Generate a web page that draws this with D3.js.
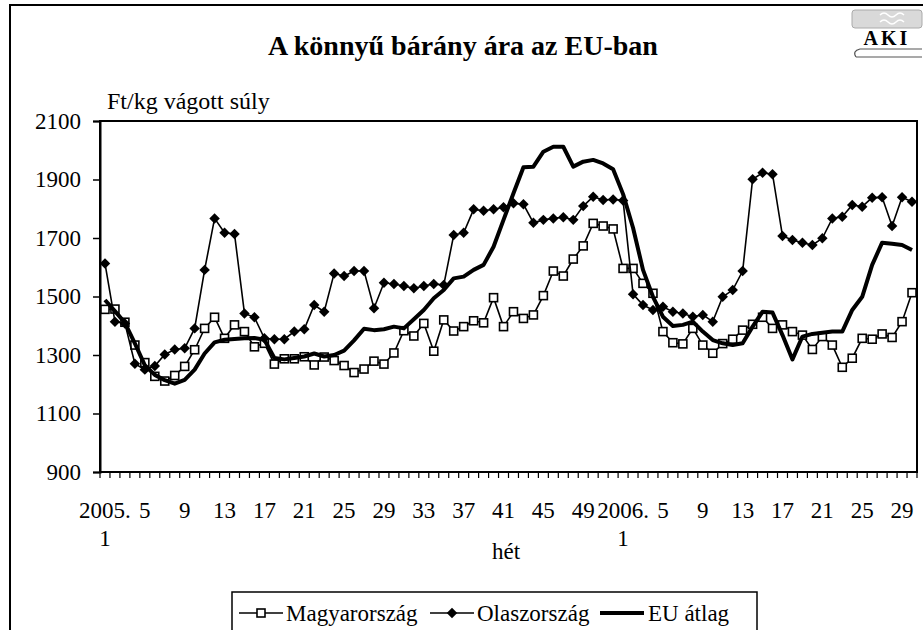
<!DOCTYPE html>
<html>
<head>
<meta charset="utf-8">
<script src="https://cdn.jsdelivr.net/npm/d3@7"></script>
<style>
  body { margin: 0; background: #fff; }
</style>
</head>
<body>
<svg id="mainsvg" width="923" height="630" font-family="'Liberation Serif', 'Times New Roman', serif"></svg>
<script>
// categories: weeks of 2005 and 2006
const weeks2005 = d3.range(1, 53);
const weeks2006 = d3.range(1, 31);
const categories = [...weeks2005.map(w => '2005. ' + w), ...weeks2006.map(w => '2006. ' + w)];
const yTicks = [900, 1100, 1300, 1500, 1700, 1900, 2100];

// Ft/kg vágott súly
const magyar = [1456, 1457, 1412, 1334, 1274, 1227, 1211, 1230, 1261, 1318,
  1391, 1429, 1357, 1403, 1380, 1328, 1340, 1269, 1287, 1287,
  1294, 1266, 1293, 1281, 1264, 1240, 1252, 1279, 1269, 1307,
  1383, 1365, 1408, 1313, 1420, 1382, 1397, 1417, 1410, 1496,
  1397, 1448, 1425, 1437, 1503, 1587, 1570, 1628, 1673, 1750,
  1741, 1731, 1596, 1596, 1545, 1511, 1380, 1342, 1338, 1391,
  1334, 1306, 1339, 1354, 1385, 1405, 1429, 1391, 1403, 1380,
  1368, 1319, 1363, 1334, 1258, 1289, 1357, 1354, 1372, 1360,
  1414, 1513];
const olasz = [1613, 1414, 1408, 1270, 1250, 1262, 1302, 1319, 1323, 1391,
  1591, 1767, 1718, 1714, 1442, 1429, 1357, 1354, 1354, 1380,
  1388, 1471, 1448, 1579, 1570, 1587, 1587, 1460, 1547, 1543,
  1536, 1528, 1536, 1543, 1539, 1710, 1718, 1798, 1793, 1798,
  1805, 1819, 1815, 1752, 1762, 1767, 1771, 1762, 1809, 1841,
  1830, 1832, 1828, 1508, 1471, 1454, 1465, 1448, 1442, 1431,
  1437, 1414, 1499, 1522, 1587, 1901, 1923, 1918, 1707, 1693,
  1684, 1676, 1699, 1767, 1773, 1813, 1807, 1838, 1839, 1741,
  1839, 1824];
const euAtlag = [1488, 1450, 1410, 1340, 1265, 1232, 1214, 1202, 1215, 1250,
  1305, 1343, 1352, 1355, 1357, 1358, 1352, 1290, 1285, 1290,
  1295, 1305, 1295, 1300, 1315, 1350, 1390, 1385, 1388, 1397,
  1391, 1422, 1454, 1494, 1522, 1562, 1568, 1591, 1608, 1670,
  1762, 1853, 1942, 1944, 1995, 2012, 2012, 1944, 1961, 1967,
  1955, 1935, 1850, 1735, 1591, 1499, 1431, 1399, 1403, 1414,
  1380, 1351, 1340, 1334, 1340, 1397, 1448, 1445, 1368, 1285,
  1363, 1372, 1376, 1380, 1380, 1454, 1499, 1608, 1684, 1680,
  1676, 1659];

const FONT = "'Liberation Serif', 'Times New Roman', serif";
const svg = d3.select('#mainsvg');
const plot = {left: 100, right: 917, top: 121, bottom: 472};

const x = d3.scaleBand().domain(categories).range([plot.left, plot.right]);
const y = d3.scaleLinear().domain([900, 2100]).range([plot.bottom, plot.top]);
const cx = i => x(categories[i]) + x.bandwidth() / 2;

// outer frame
svg.append('rect')
  .attr('x', 10).attr('y', 5).attr('width', 930).attr('height', 700)
  .attr('fill', 'none').attr('stroke', '#000').attr('stroke-width', 2);

// title
svg.append('text')
  .attr('x', 463).attr('y', 55)
  .attr('text-anchor', 'middle')
  .attr('font-family', FONT)
  .style('font-size', '28px').style('font-weight', 'bold')
  .text('A könnyű bárány ára az EU-ban');

// AKI logo
const logo = svg.append('g').attr('transform', 'translate(852, 9)');
logo.append('rect').attr('x', 0).attr('y', 1).attr('width', 70).attr('height', 18).attr('rx', 3)
  .attr('fill', '#d9d9d9').attr('stroke', '#aaa');
logo.append('path').attr('d', 'M28,6 q4,-4 8,0 q4,4 8,0 q4,-4 8,0 M28,13 q4,-4 8,0 q4,4 8,0 q4,-4 8,0')
  .attr('fill', 'none').attr('stroke', '#fff').attr('stroke-width', 1.5);
logo.append('text').attr('x', 35).attr('y', 36).attr('text-anchor', 'middle')
  .attr('font-family', FONT)
  .style('font-size', '20px').style('font-weight', 'bold').style('letter-spacing', '3px')
  .text('AKI');
logo.append('path').attr('d', 'M4,48 q-4,-6 4,-8 h62 M4,48 h66')
  .attr('fill', 'none').attr('stroke', '#555').attr('stroke-width', 1.2);

// y axis label
svg.append('text')
  .attr('x', 107).attr('y', 109)
  .attr('font-family', FONT)
  .style('font-size', '24px')
  .text('Ft/kg vágott súly');

// plot frame
svg.append('rect')
  .attr('x', plot.left).attr('y', plot.top)
  .attr('width', plot.right - plot.left).attr('height', plot.bottom - plot.top)
  .attr('fill', 'none').attr('stroke', '#000').attr('stroke-width', 2);

// y axis
const yAxis = svg.append('g')
  .attr('transform', `translate(${plot.left},0)`)
  .call(d3.axisLeft(y).tickValues(yTicks).tickSize(7).tickPadding(12).tickFormat(d3.format('d')));
yAxis.attr('font-family', FONT).attr('font-size', 23);
yAxis.select('.domain').attr('stroke-width', 2);
yAxis.selectAll('line').attr('stroke-width', 1.5);

// x axis: ticks between categories
const xAxis = svg.append('g').attr('font-family', FONT).attr('font-size', 23);
xAxis.selectAll('line.tick')
  .data([...categories.map(c => x(c)), plot.right])
  .join('line')
  .attr('x1', d => d).attr('x2', d => d)
  .attr('y1', plot.bottom).attr('y2', plot.bottom + 6)
  .attr('stroke', '#000').attr('stroke-width', 1.2);

const labelled = categories.filter((c, i) => i % 4 === 0);
const xl = xAxis.selectAll('text.xl')
  .data(labelled)
  .join('text')
  .attr('class', 'xl')
  .attr('text-anchor', 'middle');
xl.each(function(d) {
  const parts = d.split(' ');
  const t = d3.select(this);
  const px = x(d) + x.bandwidth() / 2;
  if (parts[1] === '1') {
    t.append('tspan').attr('x', px).attr('y', 518).text(parts[0]);
    t.append('tspan').attr('x', px).attr('y', 546).text(parts[1]);
  } else {
    t.append('tspan').attr('x', px).attr('y', 518).text(parts[1]);
  }
});

svg.append('text')
  .attr('x', 506).attr('y', 559)
  .attr('text-anchor', 'middle')
  .attr('font-family', FONT)
  .style('font-size', '23px')
  .text('hét');

// lines
const line = d3.line().x((d, i) => cx(i)).y(d => y(d));

svg.append('path').attr('d', line(magyar))
  .attr('fill', 'none').attr('stroke', '#000').attr('stroke-width', 1.6);
svg.append('g').selectAll('rect')
  .data(magyar).join('rect')
  .attr('x', (d, i) => cx(i) - 4).attr('y', d => y(d) - 4)
  .attr('width', 8).attr('height', 8)
  .attr('fill', '#fff').attr('stroke', '#000').attr('stroke-width', 1.6);

svg.append('path').attr('d', line(olasz))
  .attr('fill', 'none').attr('stroke', '#000').attr('stroke-width', 1.6);
const diamond = d3.symbol().type(d3.symbolDiamond2).size(70);
svg.append('g').selectAll('path')
  .data(olasz).join('path')
  .attr('d', diamond)
  .attr('transform', (d, i) => `translate(${cx(i)},${y(d)})`)
  .attr('fill', '#000');

svg.append('path').attr('d', line(euAtlag))
  .attr('fill', 'none').attr('stroke', '#000').attr('stroke-width', 4)
  .attr('stroke-linejoin', 'round');

// legend
const legend = svg.append('g').attr('font-family', FONT).attr('font-size', 23);
legend.append('rect')
  .attr('x', 232).attr('y', 592).attr('width', 525).attr('height', 60)
  .attr('fill', '#fff').attr('stroke', '#000').attr('stroke-width', 1.5);
const legendItems = [
  {name: 'Magyarország', x0: 239, type: 'square'},
  {name: 'Olaszország', x0: 430, type: 'diamond'},
  {name: 'EU átlag', x0: 600, type: 'thick'}
];
const li = legend.selectAll('g.item').data(legendItems).join('g').attr('class', 'item');
li.append('line')
  .attr('x1', d => d.x0).attr('x2', d => d.x0 + 44)
  .attr('y1', 613).attr('y2', 613)
  .attr('stroke', '#000').attr('stroke-width', d => d.type === 'thick' ? 4 : 1.6);
li.filter(d => d.type === 'square').append('rect')
  .attr('x', d => d.x0 + 18).attr('y', 609).attr('width', 8).attr('height', 8)
  .attr('fill', '#fff').attr('stroke', '#000').attr('stroke-width', 1.6);
li.filter(d => d.type === 'diamond').append('path')
  .attr('d', diamond)
  .attr('transform', d => `translate(${d.x0 + 22},613)`);
li.append('text')
  .attr('x', d => d.x0 + (d.type === 'thick' ? 48 : 47)).attr('y', 621)
  .text(d => d.name);
</script>
</body>
</html>
